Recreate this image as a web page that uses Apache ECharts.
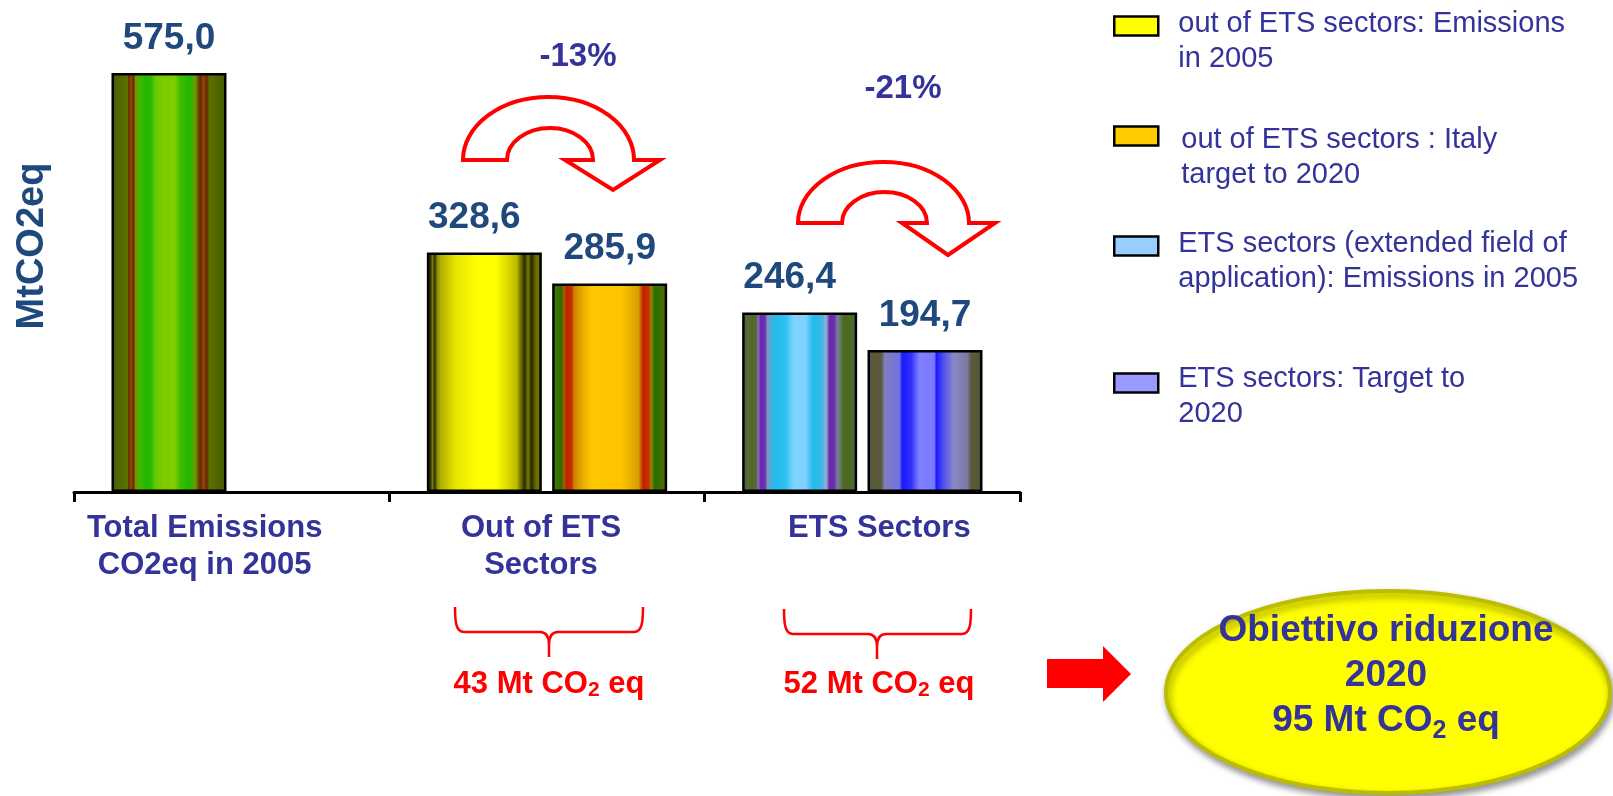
<!DOCTYPE html>
<html>
<head>
<meta charset="utf-8">
<title>Emissioni CO2eq - obiettivi 2020</title>
<script src="https://cdn.jsdelivr.net/npm/echarts@6.0.0/dist/echarts.min.js"></script>
<style>
html, body { margin: 0; padding: 0; background: #fff; }
#chart { width: 1613px; height: 796px; }
</style>
</head>
<body>
<div id="chart"></div>
<script>
// dati in MtCO2eq
const categories = ['Total Emissions\nCO2eq in 2005', 'Out of ETS\nSectors', 'ETS Sectors'];
const seriesNames = [
  'Total Emissions CO2eq in 2005',
  'out of ETS sectors: Emissions in 2005',
  'out of ETS sectors : Italy target to 2020',
  'ETS sectors (extended field of application): Emissions in 2005',
  'ETS sectors: Target to 2020'
];
const totalValues = [575.0, '-', '-'];
const outEts2005 = ['-', 328.6, '-'];
const outEtsTarget = ['-', 285.9, '-'];
const ets2005 = ['-', '-', 246.4];
const etsTarget = ['-', '-', 194.7];
const legendLabels = [
  'out of ETS sectors: Emissions\nin 2005',
  'out of ETS sectors : Italy\ntarget to 2020',
  'ETS sectors (extended field of\napplication): Emissions in 2005',
  'ETS sectors: Target to\n2020'
];
const reductionLabels = ['-13%', '-21%'];
const gapLabels = ['43', '52'];
const goalLines = ['Obiettivo riduzione', '2020', '95'];

const FONT = '"Liberation Sans", Arial, sans-serif';
const chart = echarts.init(document.getElementById('chart'));

// forme personalizzate (frecce curve e graffe)
const shapePaths = {
  arrowA: 'M463 160 A85.5 63 0 0 1 634 160 L660 160 L613 190 L565 160 L593 160 A43 32 0 0 0 507 160 Z',
  arrowB: 'M798 223 A85.5 61 0 0 1 969 223 L995 223 L948 255 L902 223 L927 223 A42.5 31 0 0 0 842 223 Z',
  braceA: 'M455 607 C455 622 456 632 464 632 L540 632 C546 632 549 636 549 645 L549 657 M549 645 C549 636 552 632 558 632 L634 632 C642 632 643 622 643 607',
  braceB: 'M784 609 C784 624 785 634 793 634 L868 634 C874 634 877 638 877 647 L877 659 M877 647 C877 638 880 634 886 634 L962 634 C970 634 971 624 971 609'
};
Object.keys(shapePaths).forEach(k => {
  echarts.graphic.registerShape(k, echarts.graphic.extendPath(shapePaths[k], {}));
});

// strisce verticali tipo "cilindro"
function stripes(list) {
  return new echarts.graphic.LinearGradient(0, 0, 1, 0,
    list.map(s => ({ offset: s[0], color: s[1] })));
}
const greenFill = stripes([
  [0, '#475c00'], [0.14, '#5a7200'], [0.15, '#6b2400'], [0.17, '#8a5200'], [0.19, '#6b2000'],
  [0.21, '#7a9400'], [0.25, '#3cb800'], [0.3, '#22b800'], [0.35, '#2cbb00'], [0.38, '#66c800'],
  [0.45, '#7ccc00'], [0.55, '#80cc00'], [0.6, '#3cbc00'], [0.68, '#22b800'], [0.73, '#6a9a00'],
  [0.77, '#6b2000'], [0.8, '#8a4a00'], [0.83, '#6b2400'], [0.85, '#5a7200'], [1, '#455800']
]);
const yellowFill = stripes([
  [0, '#5a5a00'], [0.03, '#2a2a00'], [0.05, '#7a7a00'], [0.07, '#2a2a00'], [0.09, '#8a8a00'],
  [0.12, '#b0b000'], [0.25, '#e6e600'], [0.45, '#ffff00'], [0.6, '#ffff00'], [0.78, '#bcbc00'],
  [0.82, '#6b6b00'], [0.85, '#2a2a00'], [0.88, '#7a7a00'], [0.91, '#2a2a00'], [0.95, '#6b6b00'], [1, '#7a7a00']
]);
const orangeFill = stripes([
  [0, '#7a6000'], [0.03, '#3a7a00'], [0.08, '#2a6a00'], [0.1, '#a06000'], [0.13, '#c02000'],
  [0.17, '#c83000'], [0.19, '#d08000'], [0.27, '#e8b000'], [0.35, '#ffc800'], [0.6, '#ffc400'],
  [0.75, '#d8a000'], [0.79, '#c02000'], [0.84, '#c83000'], [0.86, '#a08000'], [0.89, '#2a7000'],
  [0.95, '#3a7000'], [1, '#7a6000']
]);
const cyanFill = stripes([
  [0, '#4a5a70'], [0.05, '#556b2f'], [0.12, '#50682a'], [0.14, '#8a6abf'], [0.16, '#6a28b0'],
  [0.2, '#6a30b0'], [0.22, '#7a9abf'], [0.28, '#22bbee'], [0.38, '#30c0f0'], [0.45, '#80d4ff'],
  [0.55, '#7fd0ff'], [0.62, '#22bbee'], [0.7, '#40b8e8'], [0.73, '#9ab0d0'], [0.76, '#6a28b0'],
  [0.8, '#6a30b0'], [0.83, '#7a80a0'], [0.88, '#4a6a20'], [0.95, '#4a6a20'], [1, '#4a5a70']
]);
const blueFill = stripes([
  [0, '#505078'], [0.05, '#5a5a30'], [0.12, '#5a5a40'], [0.15, '#8080c0'], [0.28, '#7070e0'],
  [0.3, '#1a1aff'], [0.38, '#3030ff'], [0.45, '#8080ff'], [0.58, '#7878ff'], [0.6, '#1a1aff'],
  [0.66, '#5050f0'], [0.75, '#8888c8'], [0.87, '#7a7aa0'], [0.9, '#5a5a40'], [0.95, '#5a5a30'], [1, '#4a4a50']
]);

function barSeries(name, data, stack, fill, offset) {
  return {
    name: name,
    type: 'bar',
    stack: stack,
    data: data,
    barWidth: 115,
    barGap: '9%',
    itemStyle: { color: fill, borderColor: '#000', borderWidth: 2.5 },
    label: {
      show: true,
      position: 'top',
      distance: 16,
      offset: offset || [0, 0],
      color: '#1f497d',
      fontSize: 37,
      fontWeight: 'bold',
      fontFamily: FONT,
      formatter: p => (typeof p.value === 'number' ? p.value.toFixed(1).replace('.', ',') : '')
    },
    emphasis: { disabled: true }
  };
}

// legenda: una per voce, per riprodurre le spaziature irregolari
const legendColors = ['#ffff00', '#ffcc00', '#99ccff', '#9999ff'];
const legendTops = [16, 126, 236, 373];
const legendIndent = [15, 18, 15, 15];
const legendLead = [30, 42, 31, 27];

function legendFor(name, i) {
  return {
    data: [{ name: name, itemStyle: { color: legendColors[i], borderColor: '#000', borderWidth: 2.5 } }],
    left: 1113,
    top: legendTops[i] - 25.5,
    padding: 0,
    icon: 'rect',
    itemWidth: 44,
    itemHeight: 19,
    selectedMode: false,
    formatter: () => '{e| }\n' + legendLabels[i].split('\n').map(l => '{a|' + l + '}').join('\n'),
    textStyle: {
      rich: {
        e: { fontSize: 1, lineHeight: legendLead[i] },
        a: { color: '#333399', fontSize: 29, lineHeight: 35, fontFamily: FONT, padding: [0, 0, 0, legendIndent[i]] }
      }
    }
  };
}

function subRich(size, lh, subSize, subLh, color) {
  return {
    n: { fill: color, fontSize: size, fontWeight: 'bold', fontFamily: FONT, lineHeight: lh },
    s: { fill: color, fontSize: subSize, fontWeight: 'bold', fontFamily: FONT, lineHeight: subLh, verticalAlign: 'bottom' }
  };
}

const labelRich = {};
const labelPad = [[0, 54, 0, 0], [0, 12, 0, 0], [0, 0, 0, 34]];
labelPad.forEach((p, i) => {
  labelRich['c' + i] = {
    color: '#333399', fontSize: 31, fontWeight: 'bold', fontFamily: FONT, lineHeight: 37, padding: p
  };
});

const option = {
  animation: false,
  grid: { left: 74, right: 593, top: 0, bottom: 304, outerBoundsMode: 'none' },
  xAxis: {
    type: 'category',
    data: categories,
    axisLine: { lineStyle: { color: '#000', width: 3 } },
    axisTick: { show: true, length: 10, lineStyle: { color: '#000', width: 3 } },
    axisLabel: {
      margin: 18,
      interval: 0,
      formatter: (v, i) => v.split('\n').map(l => '{c' + i + '|' + l + '}').join('\n'),
      rich: labelRich
    }
  },
  yAxis: {
    type: 'value',
    min: 0,
    max: 675,
    axisLine: { show: false },
    axisTick: { show: false },
    axisLabel: { show: false },
    splitLine: { show: false },
    name: 'MtCO2eq',
    nameLocation: 'middle',
    nameRotate: 90,
    nameGap: 22,
    nameTextStyle: { color: '#1f497d', fontSize: 38, fontWeight: 'bold', fontFamily: FONT }
  },
  legend: seriesNames.slice(1).map(legendFor),
  series: [
    barSeries(seriesNames[0], totalValues, 'base', greenFill),
    barSeries(seriesNames[1], outEts2005, 'base', yellowFill, [-10, 0]),
    barSeries(seriesNames[2], outEtsTarget, 'target', orangeFill),
    barSeries(seriesNames[3], ets2005, 'base', cyanFill, [-10, 0]),
    barSeries(seriesNames[4], etsTarget, 'target', blueFill)
  ],
  graphic: [
    // frecce curve
    { type: 'arrowA', style: { fill: '#fff', stroke: '#ff0000', lineWidth: 4, lineJoin: 'miter' } },
    { type: 'arrowB', style: { fill: '#fff', stroke: '#ff0000', lineWidth: 4, lineJoin: 'miter' } },
    {
      type: 'text',
      style: { text: reductionLabels[0], x: 578, y: 57, align: 'center', verticalAlign: 'middle',
        fill: '#333399', fontSize: 33, fontWeight: 'bold', fontFamily: FONT }
    },
    {
      type: 'text',
      style: { text: reductionLabels[1], x: 903, y: 89, align: 'center', verticalAlign: 'middle',
        fill: '#333399', fontSize: 33, fontWeight: 'bold', fontFamily: FONT }
    },
    // parentesi graffe
    { type: 'braceA', style: { fill: null, stroke: '#ff0000', lineWidth: 2.5 } },
    { type: 'braceB', style: { fill: null, stroke: '#ff0000', lineWidth: 2.5 } },
    {
      type: 'text',
      style: { text: '{n|' + gapLabels[0] + ' Mt CO}{s|2}{n| eq}', x: 549, y: 684, align: 'center', verticalAlign: 'middle',
        rich: subRich(31, 34, 21, 14, '#ff0000') }
    },
    {
      type: 'text',
      style: { text: '{n|' + gapLabels[1] + ' Mt CO}{s|2}{n| eq}', x: 879, y: 684, align: 'center', verticalAlign: 'middle',
        rich: subRich(31, 34, 21, 14, '#ff0000') }
    },
    // freccia rossa
    {
      type: 'polygon',
      shape: { points: [[1047, 659], [1103, 659], [1103, 646], [1131, 674], [1103, 702], [1103, 688], [1047, 688]] },
      style: { fill: '#ff0000' }
    },
    // ellisse obiettivo
    {
      type: 'ellipse',
      shape: { cx: 1388, cy: 692, rx: 222, ry: 101 },
      style: {
        fill: '#ffff00', stroke: '#bcbc00', lineWidth: 4,
        shadowBlur: 7, shadowColor: 'rgba(0,0,0,0.4)', shadowOffsetX: 2, shadowOffsetY: 4
      }
    },
    {
      type: 'text',
      style: {
        text: '{n|' + goalLines[0] + '}\n{n|' + goalLines[1] + '}\n{n|' + goalLines[2] + ' Mt CO}{s|2}{n| eq}',
        x: 1386, y: 676, align: 'center', verticalAlign: 'middle',
        rich: subRich(37, 45, 25, 22, '#333399')
      }
    }
  ]
};

chart.setOption(option);
</script>
</body>
</html>
